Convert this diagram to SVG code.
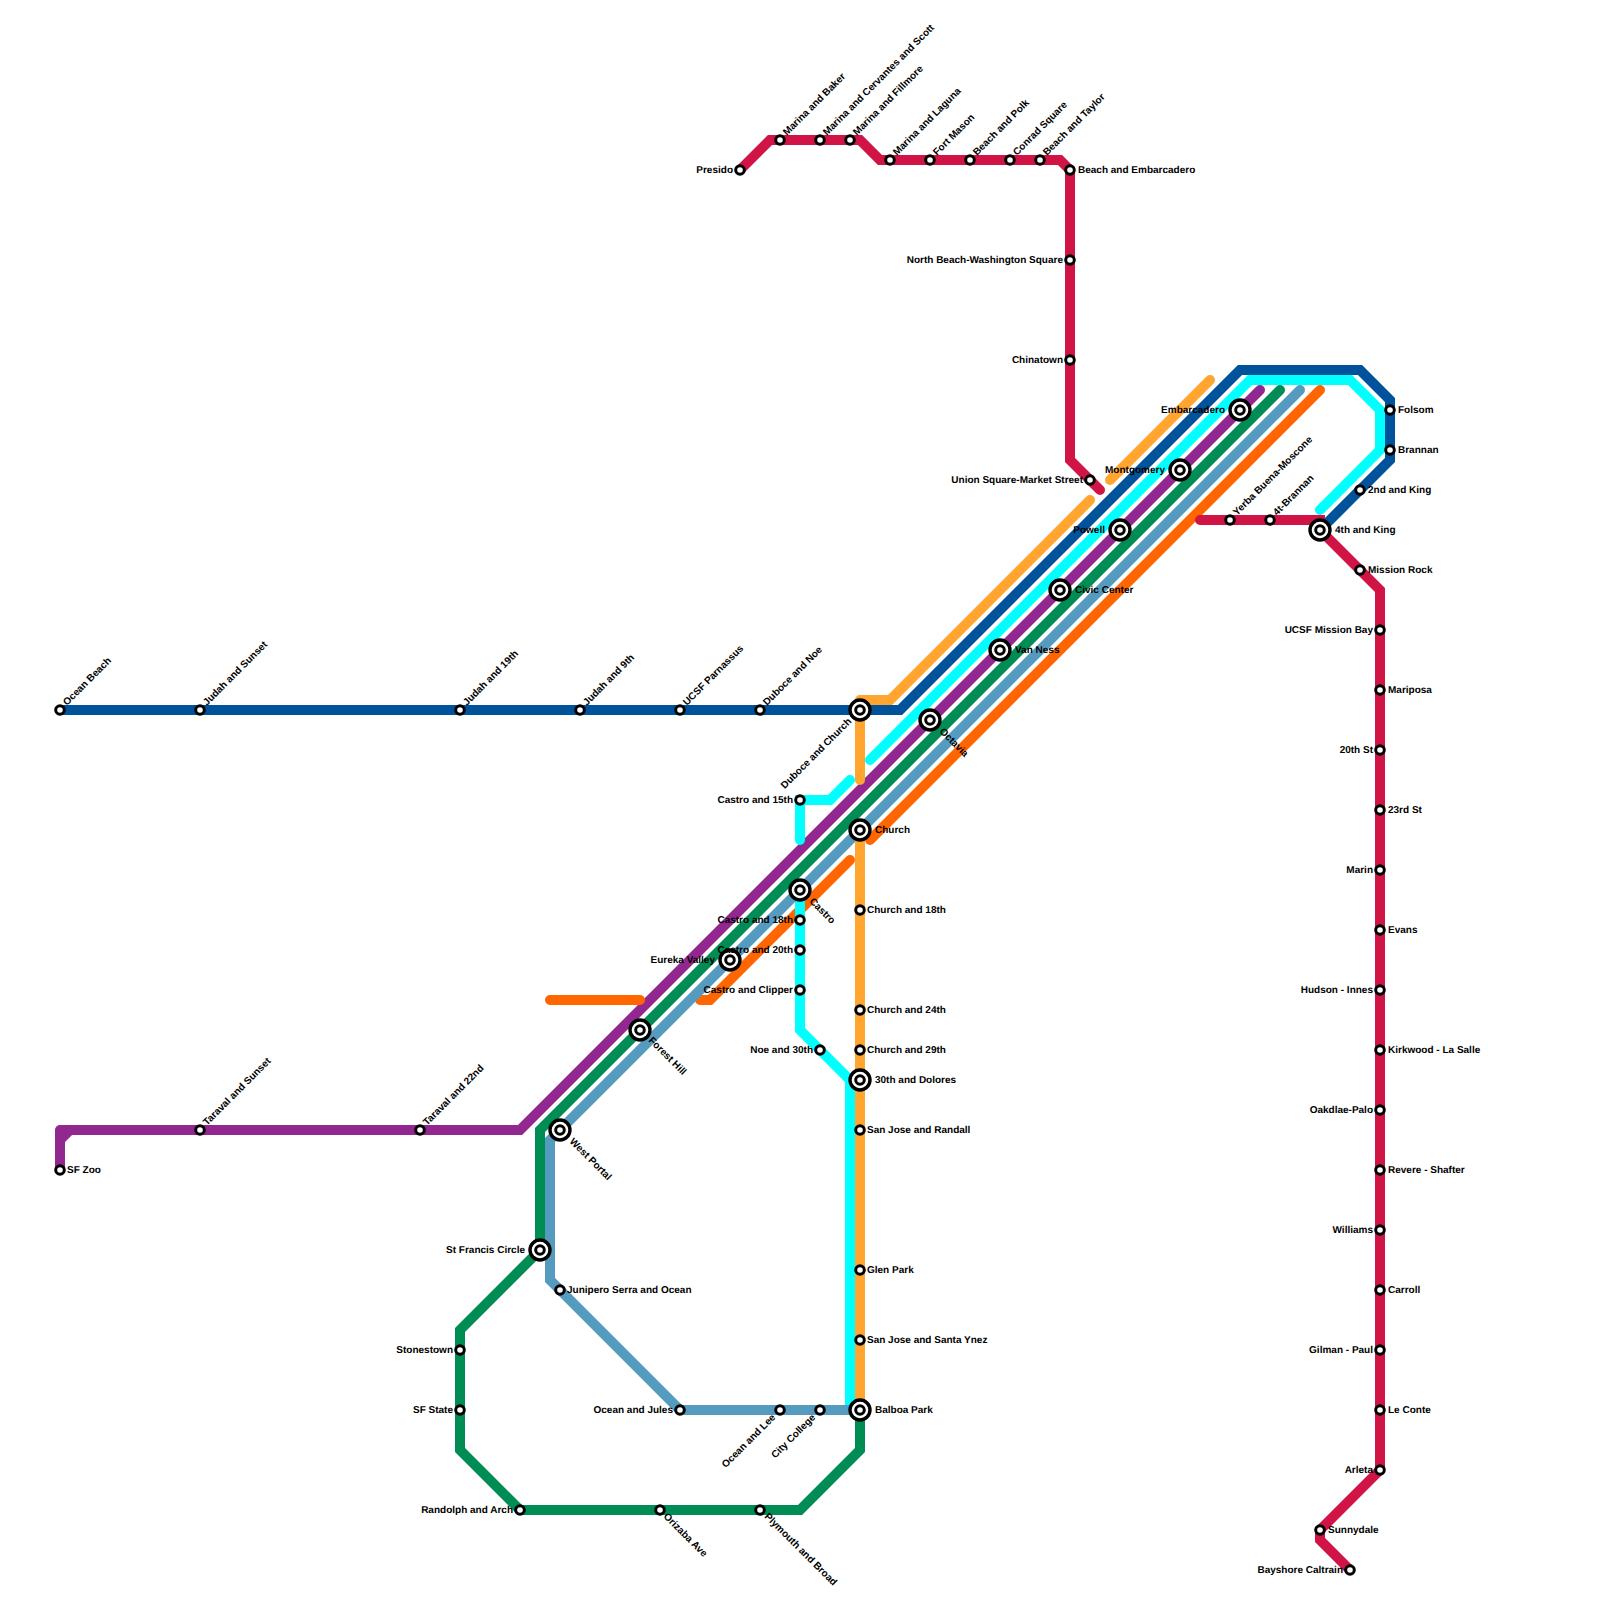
<svg xmlns="http://www.w3.org/2000/svg" width="1600" height="1600" viewBox="0 0 1600 1600">
<style>
text{font-family:"Liberation Sans",Arial,sans-serif;font-size:10px;font-weight:bold;fill:#000;text-rendering:geometricPrecision}
.e{text-anchor:end}
#connectors path{fill:none;stroke-width:10;stroke-linecap:round;stroke-linejoin:miter}
#connectors path.rj{stroke-linejoin:round}
.blue{stroke:#00529b}.pur{stroke:#91278f}.grn{stroke:#008c55}.org{stroke:#ff6600}.cyn{stroke:#00ffff}.lbl{stroke:#559bbf}.ylw{stroke:#ffa530}.red{stroke:#d01446}
.s{fill:#fff;stroke:#000;stroke-width:3}
.o{fill:#fff;stroke:#000;stroke-width:3.400}
.i{fill:#fff;stroke:#000;stroke-width:3}
</style>
<rect width="1600" height="1600" fill="#fff"/>
<g id="connectors">
<path class="blue" d="M60 710H900L1240 370H1360L1390 400V460L1320 530"/>
<path class="pur rj" d="M60 1170V1130H75M60 1140L70 1130"/>
<path class="pur" d="M70 1130H520L1260 390"/>
<path class="grn" d="M860 1410V1450L800 1510H520L460 1450V1330L540 1250V1130L1280 390"/>
<path class="org" d="M550 1000H640"/>
<path class="org" d="M700 1000H710L850 860"/>
<path class="org" d="M870 840L1320 390"/>
<path class="cyn" d="M870 760L1250 380H1350L1380 410V450L1320 510"/>
<path class="cyn" d="M850 780L830 800H800V840"/>
<path class="cyn" d="M800 890V1030L850 1080V1410"/>
<path class="lbl" d="M860 1410H680L550 1280V1140L560 1130L1300 390"/>
<path class="ylw" d="M860 780V700M860 700H890L1090 500"/>
<path class="ylw" d="M1110 480L1210 380"/>
<path class="ylw" d="M860 830V1410"/>
<path class="red" d="M740 170L770 140H860L880 160H1060L1070 170V460L1100 490"/>
<path class="red" d="M1200 520H1320V530L1380 590V1470L1320 1530V1540L1350 1570"/>
</g>
<g id="stations">
<g id="ocean-beach"><circle class="s" cx="60" cy="710" r="4.3"/><text transform="translate(67 706) rotate(-45)">Ocean Beach</text></g>
<g id="judah-sunset"><circle class="s" cx="200" cy="710" r="4.3"/><text transform="translate(207 706) rotate(-45)">Judah and Sunset</text></g>
<g id="judah-19th"><circle class="s" cx="460" cy="710" r="4.3"/><text transform="translate(467 706) rotate(-45)">Judah and 19th</text></g>
<g id="judah-9th"><circle class="s" cx="580" cy="710" r="4.3"/><text transform="translate(587 706) rotate(-45)">Judah and 9th</text></g>
<g id="ucsf-parnassus"><circle class="s" cx="680" cy="710" r="4.3"/><text transform="translate(687 706) rotate(-45)">UCSF Parnassus</text></g>
<g id="duboce-noe"><circle class="s" cx="760" cy="710" r="4.3"/><text transform="translate(767 706) rotate(-45)">Duboce and Noe</text></g>
<g id="duboce-church"><circle class="o" cx="860" cy="710" r="10"/><circle class="i" cx="860" cy="710" r="4.3"/><text class="e" transform="translate(852 722) rotate(-45)">Duboce and Church</text></g>
<g id="taraval-sunset"><circle class="s" cx="200" cy="1130" r="4.3"/><text transform="translate(207 1126) rotate(-45)">Taraval and Sunset</text></g>
<g id="taraval-22nd"><circle class="s" cx="420" cy="1130" r="4.3"/><text transform="translate(427 1126) rotate(-45)">Taraval and 22nd</text></g>
<g id="sf-zoo"><circle class="s" cx="60" cy="1170" r="4.3"/><text x="67" y="1172.500">SF Zoo</text></g>
<g id="forest-hill"><circle class="o" cx="640" cy="1030" r="10"/><circle class="i" cx="640" cy="1030" r="4.3"/><text transform="translate(648 1041) rotate(45)">Forest Hill</text></g>
<g id="west-portal"><circle class="o" cx="560" cy="1130" r="10"/><circle class="i" cx="560" cy="1130" r="4.3"/><text transform="translate(569 1142) rotate(45)">West Portal</text></g>
<g id="st-francis"><circle class="o" cx="540" cy="1250" r="10"/><circle class="i" cx="540" cy="1250" r="4.3"/><text class="e" x="525" y="1252.500">St Francis Circle</text></g>
<g id="junipero"><circle class="s" cx="560" cy="1290" r="4.3"/><text x="567" y="1292.500">Junipero Serra and Ocean</text></g>
<g id="stonestown"><circle class="s" cx="460" cy="1350" r="4.3"/><text class="e" x="453" y="1352.500">Stonestown</text></g>
<g id="sf-state"><circle class="s" cx="460" cy="1410" r="4.3"/><text class="e" x="453" y="1412.500">SF State</text></g>
<g id="randolph-arch"><circle class="s" cx="520" cy="1510" r="4.3"/><text class="e" x="513" y="1512.500">Randolph and Arch</text></g>
<g id="orizaba"><circle class="s" cx="660" cy="1510" r="4.3"/><text transform="translate(663 1517) rotate(45)">Orizaba Ave</text></g>
<g id="plymouth-broad"><circle class="s" cx="760" cy="1510" r="4.3"/><text transform="translate(764 1517) rotate(45)">Plymouth and Broad</text></g>
<g id="ocean-jules"><circle class="s" cx="680" cy="1410" r="4.3"/><text class="e" x="673" y="1412.500">Ocean and Jules</text></g>
<g id="ocean-lee"><circle class="s" cx="780" cy="1410" r="4.3"/><text class="e" transform="translate(776 1418) rotate(-45)">Ocean and Lee</text></g>
<g id="city-college"><circle class="s" cx="820" cy="1410" r="4.3"/><text class="e" transform="translate(816 1418) rotate(-45)">City College</text></g>
<g id="balboa-park"><circle class="o" cx="860" cy="1410" r="10"/><circle class="i" cx="860" cy="1410" r="4.3"/><text x="875" y="1412.500">Balboa Park</text></g>
<g id="sj-santa-ynez"><circle class="s" cx="860" cy="1340" r="4.3"/><text x="867" y="1342.500">San Jose and Santa Ynez</text></g>
<g id="glen-park"><circle class="s" cx="860" cy="1270" r="4.3"/><text x="867" y="1272.500">Glen Park</text></g>
<g id="sj-randall"><circle class="s" cx="860" cy="1130" r="4.3"/><text x="867" y="1132.500">San Jose and Randall</text></g>
<g id="30th-dolores"><circle class="o" cx="860" cy="1080" r="10"/><circle class="i" cx="860" cy="1080" r="4.3"/><text x="875" y="1082.500">30th and Dolores</text></g>
<g id="church-29th"><circle class="s" cx="860" cy="1050" r="4.3"/><text x="867" y="1052.500">Church and 29th</text></g>
<g id="church-24th"><circle class="s" cx="860" cy="1010" r="4.3"/><text x="867" y="1012.500">Church and 24th</text></g>
<g id="church-18th"><circle class="s" cx="860" cy="910" r="4.3"/><text x="867" y="912.500">Church and 18th</text></g>
<g id="church"><circle class="o" cx="860" cy="830" r="10"/><circle class="i" cx="860" cy="830" r="4.3"/><text x="875" y="832.500">Church</text></g>
<g id="castro"><circle class="o" cx="800" cy="890" r="10"/><circle class="i" cx="800" cy="890" r="4.3"/><text transform="translate(809 902) rotate(45)">Castro</text></g>
<g id="eureka-valley"><circle class="o" cx="730" cy="960" r="10"/><circle class="i" cx="730" cy="960" r="4.3"/><text class="e" x="715" y="962.500">Eureka Valley</text></g>
<g id="castro-18th"><circle class="s" cx="800" cy="920" r="4.3"/><text class="e" x="793" y="922.500">Castro and 18th</text></g>
<g id="castro-20th"><circle class="s" cx="800" cy="950" r="4.3"/><text class="e" x="793" y="952.500">Castro and 20th</text></g>
<g id="castro-clipper"><circle class="s" cx="800" cy="990" r="4.3"/><text class="e" x="793" y="992.500">Castro and Clipper</text></g>
<g id="noe-30th"><circle class="s" cx="820" cy="1050" r="4.3"/><text class="e" x="813" y="1052.500">Noe and 30th</text></g>
<g id="castro-15th"><circle class="s" cx="800" cy="800" r="4.3"/><text class="e" x="793" y="802.500">Castro and 15th</text></g>
<g id="octavia"><circle class="o" cx="930" cy="720" r="10"/><circle class="i" cx="930" cy="720" r="4.3"/><text transform="translate(939 732) rotate(45)">Octavia</text></g>
<g id="van-ness"><circle class="o" cx="1000" cy="650" r="10"/><circle class="i" cx="1000" cy="650" r="4.3"/><text x="1015" y="652.500">Van Ness</text></g>
<g id="civic-center"><circle class="o" cx="1060" cy="590" r="10"/><circle class="i" cx="1060" cy="590" r="4.3"/><text x="1075" y="592.500">Civic Center</text></g>
<g id="powell"><circle class="o" cx="1120" cy="530" r="10"/><circle class="i" cx="1120" cy="530" r="4.3"/><text class="e" x="1105" y="532.500">Powell</text></g>
<g id="montgomery"><circle class="o" cx="1180" cy="470" r="10"/><circle class="i" cx="1180" cy="470" r="4.3"/><text class="e" x="1165" y="472.500">Montgomery</text></g>
<g id="embarcadero"><circle class="o" cx="1240" cy="410" r="10"/><circle class="i" cx="1240" cy="410" r="4.3"/><text class="e" x="1225" y="412.500">Embarcadero</text></g>
<g id="union-square"><circle class="s" cx="1090" cy="480" r="4.3"/><text class="e" x="1083" y="482.500">Union Square-Market Street</text></g>
<g id="chinatown"><circle class="s" cx="1070" cy="360" r="4.3"/><text class="e" x="1063" y="362.500">Chinatown</text></g>
<g id="north-beach"><circle class="s" cx="1070" cy="260" r="4.3"/><text class="e" x="1063" y="262.500">North Beach-Washington Square</text></g>
<g id="beach-embarcadero"><circle class="s" cx="1070" cy="170" r="4.3"/><text x="1078" y="172.500">Beach and Embarcadero</text></g>
<g id="beach-taylor"><circle class="s" cx="1040" cy="160" r="4.3"/><text transform="translate(1047 156) rotate(-45)">Beach and Taylor</text></g>
<g id="conrad-square"><circle class="s" cx="1010" cy="160" r="4.3"/><text transform="translate(1017 156) rotate(-45)">Conrad Square</text></g>
<g id="beach-polk"><circle class="s" cx="970" cy="160" r="4.3"/><text transform="translate(977 156) rotate(-45)">Beach and Polk</text></g>
<g id="fort-mason"><circle class="s" cx="930" cy="160" r="4.3"/><text transform="translate(937 156) rotate(-45)">Fort Mason</text></g>
<g id="marina-laguna"><circle class="s" cx="890" cy="160" r="4.3"/><text transform="translate(897 156) rotate(-45)">Marina and Laguna</text></g>
<g id="marina-fillmore"><circle class="s" cx="850" cy="140" r="4.3"/><text transform="translate(857 136) rotate(-45)">Marina and Fillmore</text></g>
<g id="marina-cervantes"><circle class="s" cx="820" cy="140" r="4.3"/><text transform="translate(827 136) rotate(-45)">Marina and Cervantes and Scott</text></g>
<g id="marina-baker"><circle class="s" cx="780" cy="140" r="4.3"/><text transform="translate(787 136) rotate(-45)">Marina and Baker</text></g>
<g id="presido"><circle class="s" cx="740" cy="170" r="4.3"/><text class="e" x="733" y="172.500">Presido</text></g>
<g id="folsom"><circle class="s" cx="1390" cy="410" r="4.3"/><text x="1398" y="412.500">Folsom</text></g>
<g id="brannan"><circle class="s" cx="1390" cy="450" r="4.3"/><text x="1398" y="452.500">Brannan</text></g>
<g id="2nd-king"><circle class="s" cx="1360" cy="490" r="4.3"/><text x="1368" y="492.500">2nd and King</text></g>
<g id="4th-king"><circle class="o" cx="1320" cy="530" r="10"/><circle class="i" cx="1320" cy="530" r="4.3"/><text x="1335" y="532.500">4th and King</text></g>
<g id="mission-rock"><circle class="s" cx="1360" cy="570" r="4.3"/><text x="1368" y="572.500">Mission Rock</text></g>
<g id="yerba-buena"><circle class="s" cx="1230" cy="520" r="4.3"/><text transform="translate(1237 516) rotate(-45)">Yerba Buena-Moscone</text></g>
<g id="4t-brannan"><circle class="s" cx="1270" cy="520" r="4.3"/><text transform="translate(1277 516) rotate(-45)">4t-Brannan</text></g>
<g id="ucsf-mission-bay"><circle class="s" cx="1380" cy="630" r="4.3"/><text class="e" x="1373" y="632.500">UCSF Mission Bay</text></g>
<g id="mariposa"><circle class="s" cx="1380" cy="690" r="4.3"/><text x="1388" y="692.500">Mariposa</text></g>
<g id="20th-st"><circle class="s" cx="1380" cy="750" r="4.3"/><text class="e" x="1373" y="752.500">20th St</text></g>
<g id="23rd-st"><circle class="s" cx="1380" cy="810" r="4.3"/><text x="1388" y="812.500">23rd St</text></g>
<g id="marin"><circle class="s" cx="1380" cy="870" r="4.3"/><text class="e" x="1373" y="872.500">Marin</text></g>
<g id="evans"><circle class="s" cx="1380" cy="930" r="4.3"/><text x="1388" y="932.500">Evans</text></g>
<g id="hudson-innes"><circle class="s" cx="1380" cy="990" r="4.3"/><text class="e" x="1373" y="992.500">Hudson - Innes</text></g>
<g id="kirkwood"><circle class="s" cx="1380" cy="1050" r="4.3"/><text x="1388" y="1052.500">Kirkwood - La Salle</text></g>
<g id="oakdlae"><circle class="s" cx="1380" cy="1110" r="4.3"/><text class="e" x="1373" y="1112.500">Oakdlae-Palo</text></g>
<g id="revere"><circle class="s" cx="1380" cy="1170" r="4.3"/><text x="1388" y="1172.500">Revere - Shafter</text></g>
<g id="williams"><circle class="s" cx="1380" cy="1230" r="4.3"/><text class="e" x="1373" y="1232.500">Williams</text></g>
<g id="carroll"><circle class="s" cx="1380" cy="1290" r="4.3"/><text x="1388" y="1292.500">Carroll</text></g>
<g id="gilman"><circle class="s" cx="1380" cy="1350" r="4.3"/><text class="e" x="1373" y="1352.500">Gilman - Paul</text></g>
<g id="le-conte"><circle class="s" cx="1380" cy="1410" r="4.3"/><text x="1388" y="1412.500">Le Conte</text></g>
<g id="arleta"><circle class="s" cx="1380" cy="1470" r="4.3"/><text class="e" x="1373" y="1472.500">Arleta</text></g>
<g id="sunnydale"><circle class="s" cx="1320" cy="1530" r="4.3"/><text x="1328" y="1532.500">Sunnydale</text></g>
<g id="bayshore"><circle class="s" cx="1350" cy="1570" r="4.3"/><text class="e" x="1343" y="1572.500">Bayshore Caltrain</text></g>
</g>
</svg>
